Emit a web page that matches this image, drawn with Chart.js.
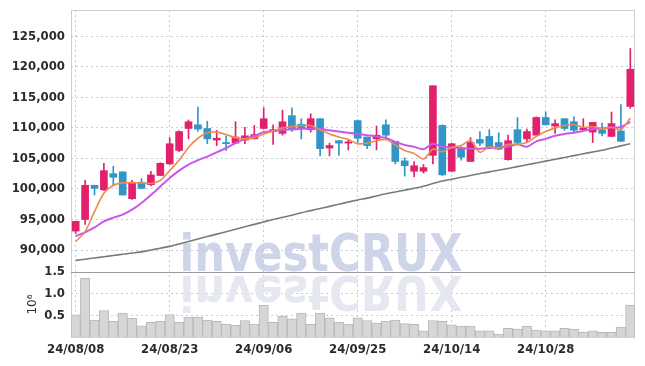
<!DOCTYPE html>
<html lang="en">
<head>
<meta charset="UTF-8">
<title>Daily price | investCRUX</title>
<script src="https://cdn.jsdelivr.net/npm/chart.js"></script>
<style>
    html, body { margin: 0; padding: 0; background: #fff; }
    .chart-container { position: relative; width: 645px; height: 366px; }
</style>
</head>
<body>
<div class="chart-container"><canvas id="priceChart"></canvas></div>
<script>
    // trading days, 24/08/08 .. 24/11/08
    const dates = [
        '24/08/08','24/08/09','24/08/12','24/08/13','24/08/14','24/08/16','24/08/19','24/08/20','24/08/21','24/08/22',
        '24/08/23','24/08/26','24/08/27','24/08/28','24/08/29','24/08/30','24/09/02','24/09/03','24/09/04','24/09/05',
        '24/09/06','24/09/09','24/09/10','24/09/11','24/09/12','24/09/13','24/09/19','24/09/20','24/09/23','24/09/24',
        '24/09/25','24/09/26','24/09/27','24/09/30','24/10/02','24/10/04','24/10/07','24/10/08','24/10/10','24/10/11',
        '24/10/14','24/10/15','24/10/16','24/10/17','24/10/18','24/10/21','24/10/22','24/10/23','24/10/24','24/10/25',
        '24/10/28','24/10/29','24/10/30','24/10/31','24/11/01','24/11/04','24/11/05','24/11/06','24/11/07','24/11/08'
    ];

    const openPrices = [
        93100, 95000, 100600, 99850, 102500, 102800, 98400, 101100, 100700, 102200,
        104100, 106300, 109900, 110500, 109900, 108000, 107600, 107500, 108000, 108200,
        109900, 109400, 109100, 112000, 110600, 109700, 111500, 106700, 107900, 107500,
        111200, 108500, 108200, 110500, 107800, 104600, 102900, 102900, 105500, 110400,
        102900, 106600, 104500, 108100, 108600, 107600, 104800, 109700, 108200, 108800,
        111700, 110300, 111500, 111000, 109700, 109300, 109700, 108600, 109500, 113500
    ];
    const highPrices = [
        94700, 101400, 100600, 104200, 103700, 102800, 101400, 101700, 102900, 104300,
        108400, 109500, 111300, 113400, 111100, 109600, 108700, 111000, 110100, 110400,
        113300, 110500, 112900, 113300, 111500, 112300, 111500, 107500, 107900, 108100,
        111300, 108500, 110300, 111300, 107800, 105100, 104500, 104000, 116900, 110500,
        107500, 106900, 108400, 109400, 109700, 109200, 108800, 111700, 109800, 111800,
        112600, 111300, 111500, 111800, 111500, 110900, 110800, 112600, 113800, 123000
    ];
    const lowPrices = [
        92700, 94200, 99000, 99700, 100500, 99000, 98300, 100100, 100500, 102200,
        104000, 106100, 108200, 109400, 107400, 107100, 106300, 107400, 107400, 108200,
        109800, 107300, 108800, 109400, 108200, 109300, 105400, 105400, 105500, 106400,
        107600, 106600, 106400, 108300, 104100, 102100, 102000, 102600, 104100, 102200,
        102800, 104700, 104500, 107100, 106600, 106400, 104700, 107500, 107700, 108800,
        110500, 109100, 109600, 109300, 109600, 107600, 108700, 108600, 107800, 113200
    ];
    const closePrices = [
        94700, 100600, 100100, 103000, 101900, 99000, 101100, 100100, 102300, 104200,
        107400, 109400, 111000, 109800, 108200, 108300, 107400, 108500, 108700, 108900,
        111500, 109700, 111000, 109700, 109900, 111500, 106600, 107100, 107500, 107700,
        108300, 107100, 108800, 108800, 104500, 103800, 103800, 103500, 116900, 102300,
        107400, 105200, 107600, 107500, 106800, 106500, 107900, 107600, 109400, 111700,
        110500, 110700, 109900, 109600, 110000, 110900, 109100, 110700, 107800, 119600
    ];

    // moving averages as drawn (orange, purple, gray)
    const maShort = [
        91400, 93000, 96300, 99300, 100600, 101000, 101000, 101000, 100900, 101400,
        103000, 104700, 106800, 108300, 109200, 109300, 108900, 108400, 108200, 108400,
        109000, 109500, 110000, 110200, 110400, 110400, 109700, 109000, 108500, 108100,
        107400, 107500, 107900, 108100, 107200, 106300, 105800, 104900, 106500, 106100,
        106800, 107100, 107900, 106000, 106900, 106700, 107300, 107300, 107600, 108600,
        109400, 110000, 110400, 110500, 110100, 110200, 109900, 110100, 109700, 111600
    ];
    const maMid = [
        92300, 92900, 93700, 94700, 95300, 95800, 96600, 97700, 99000, 100400,
        101800, 103000, 104000, 104700, 105300, 106000, 106700, 107500, 108200, 108700,
        109300, 109500, 109650, 109750, 109850, 109900, 109800, 109600, 109400, 109200,
        109000, 108800, 108600, 108350, 107700, 107200, 106900, 106500, 107400, 106900,
        106800, 106700, 106600, 106600, 106700, 106800, 106900, 107300, 106900, 107800,
        108200, 108700, 109000, 109200, 109500, 109800, 109950, 110050, 110150, 111000
    ];
    const maLong = [
        88300, 88500, 88700, 88900, 89100, 89300, 89500, 89700, 90000, 90300,
        90600, 91000, 91400, 91800, 92200, 92600, 93000, 93400, 93800, 94200,
        94600, 95000, 95350, 95700, 96100, 96450, 96800, 97150, 97500, 97850,
        98200, 98500, 98850, 99200, 99500, 99800, 100100, 100450, 100900, 101300,
        101600, 101900, 102200, 102500, 102800, 103050, 103350, 103650, 103950, 104250,
        104550, 104850, 105150, 105450, 105750, 106050, 106350, 106700, 107050, 107400
    ];

    // volume in millions of shares
    const volumes = [
        0.51, 1.36, 0.39, 0.61, 0.36, 0.55, 0.43, 0.26, 0.34, 0.36,
        0.52, 0.34, 0.46, 0.46, 0.39, 0.36, 0.30, 0.27, 0.38, 0.30,
        0.73, 0.34, 0.48, 0.42, 0.55, 0.30, 0.55, 0.44, 0.34, 0.30,
        0.44, 0.38, 0.32, 0.37, 0.39, 0.31, 0.29, 0.14, 0.38, 0.36,
        0.28, 0.25, 0.25, 0.14, 0.14, 0.07, 0.20, 0.18, 0.25, 0.16,
        0.14, 0.14, 0.20, 0.18, 0.11, 0.14, 0.11, 0.11, 0.23, 0.73
    ];

    const priceTicks = [90000, 95000, 100000, 105000, 110000, 115000, 120000, 125000];
    const volumeTicks = [0.5, 1.0, 1.5];

    const UP = '#e3206b';
    const DOWN = '#3196c7';
    const GRID = '#c6cadb';
    const LABEL_FONT = { family: '"DejaVu Sans Condensed", "DejaVu Sans", sans-serif', size: 13, weight: 'bold' };

    const candleColors = openPrices.map((o, i) => closePrices[i] >= o ? UP : DOWN);

    // no extra room for half labels at the pane edges
    function trimPadding(s) {
        s.paddingTop = 0;
        s.paddingBottom = 0;
        s.paddingLeft = 0;
        s.paddingRight = 0;
    }

    // watermark text and panel frame
    const decorations = {
        id: 'decorations',
        beforeDatasetsDraw(chart) {
            const { ctx, chartArea } = chart;
            const vol = chart.scales.vol;
            ctx.save();
            ctx.font = 'bold 52px "DejaVu Sans Condensed", "DejaVu Sans", sans-serif';
            ctx.textAlign = 'center';
            ctx.textBaseline = 'alphabetic';
            const text = 'investCRUX';
            const sx = 283 / ctx.measureText(text).width;
            ctx.translate(321, 271);
            ctx.scale(sx, 1);
            ctx.fillStyle = 'rgba(198, 206, 229, 0.85)';
            ctx.fillText(text, 0, 0);
            ctx.translate(0, 5);
            ctx.scale(1, -0.92);
            ctx.fillStyle = 'rgba(226, 229, 240, 0.9)';
            ctx.fillText(text, 0, 0);
            ctx.restore();

            ctx.save();
            ctx.lineWidth = 1;
            ctx.strokeStyle = '#cfcfcf';
            ctx.strokeRect(chartArea.left + 0.5, chartArea.top + 0.5, chartArea.width - 1, chartArea.height);
            ctx.strokeStyle = '#9a9a9a';
            ctx.beginPath();
            ctx.moveTo(chartArea.left, Math.round(vol.top) + 0.5);
            ctx.lineTo(chartArea.right, Math.round(vol.top) + 0.5);
            ctx.stroke();
            ctx.restore();
        }
    };

    new Chart(document.getElementById('priceChart'), {
        data: {
            labels: dates,
            datasets: [
                { type: 'line', data: maShort, borderColor: '#ee8a50', borderWidth: 1.6, pointRadius: 0, tension: 0.3, yAxisID: 'y', order: 0 },
                { type: 'line', data: maMid, borderColor: '#cc55ec', borderWidth: 2, pointRadius: 0, tension: 0.3, yAxisID: 'y', order: 0 },
                { type: 'line', data: maLong, borderColor: '#7a7a7a', borderWidth: 1.6, pointRadius: 0, tension: 0.3, yAxisID: 'y', order: 0 },
                {
                    type: 'bar', data: openPrices.map((o, i) => [o, closePrices[i]]),
                    backgroundColor: candleColors, barThickness: 7, minBarLength: 1,
                    grouped: false, yAxisID: 'y', order: 1
                },
                {
                    type: 'bar', data: lowPrices.map((l, i) => [l, highPrices[i]]),
                    backgroundColor: candleColors, barThickness: 1,
                    grouped: false, yAxisID: 'y', order: 2
                },
                {
                    type: 'bar', data: volumes,
                    backgroundColor: '#d6d6d6', borderColor: '#b8b8b8', borderWidth: 1,
                    barPercentage: 1, categoryPercentage: 1,
                    grouped: false, yAxisID: 'vol', order: 3
                }
            ]
        },
        options: {
            responsive: true,
            maintainAspectRatio: false,
            animation: false,
            layout: { padding: { top: 10, right: 10, left: 0, bottom: 0 } },
            plugins: { legend: { display: false }, tooltip: { enabled: false } },
            scales: {
                x: {
                    type: 'category',
                    offset: true,
                    grid: {
                        offset: false,
                        drawTicks: false,
                        color: c => (c.index % 10 === 0 ? GRID : 'rgba(0,0,0,0)')
                    },
                    border: { display: false, dash: [2, 3] },
                    ticks: {
                        autoSkip: false, maxRotation: 0, padding: 5,
                        font: LABEL_FONT, color: '#2b2b2b',
                        callback: (v, i) => (i % 10 === 0 ? dates[i] : '')
                    },
                    afterFit: s => { s.height = 29; trimPadding(s); }
                },
                vol: {
                    type: 'linear', position: 'left', stack: 'panes', stackWeight: 65,
                    min: 0, max: 1.5,
                    afterBuildTicks: s => { s.ticks = volumeTicks.map(v => ({ value: v })); },
                    grid: { color: c => (c.tick.value === 1.5 ? 'rgba(0,0,0,0)' : GRID), drawTicks: false },
                    border: { display: false, dash: [2, 3] },
                    ticks: { autoSkip: false, padding: 6, font: LABEL_FONT, color: '#2b2b2b', callback: v => v.toFixed(1) },
                    title: {
                        display: true, text: '10⁶', color: '#2b2b2b',
                        font: { family: '"DejaVu Sans", sans-serif', size: 12 },
                        padding: { top: 26, bottom: 0 }
                    },
                    afterFit: s => { s.width = 71; trimPadding(s); }
                },
                y: {
                    type: 'linear', position: 'left', stack: 'panes', stackWeight: 262,
                    min: 86400, max: 129300,
                    afterBuildTicks: s => { s.ticks = priceTicks.map(v => ({ value: v })); },
                    grid: { color: GRID, drawTicks: false },
                    border: { display: false, dash: [2, 3] },
                    ticks: { autoSkip: false, padding: 6, font: LABEL_FONT, color: '#2b2b2b', callback: v => v.toLocaleString('en-US') },
                    afterFit: s => { s.width = 71; trimPadding(s); }
                }
            }
        },
        plugins: [decorations]
    });
</script>
</body>
</html>
